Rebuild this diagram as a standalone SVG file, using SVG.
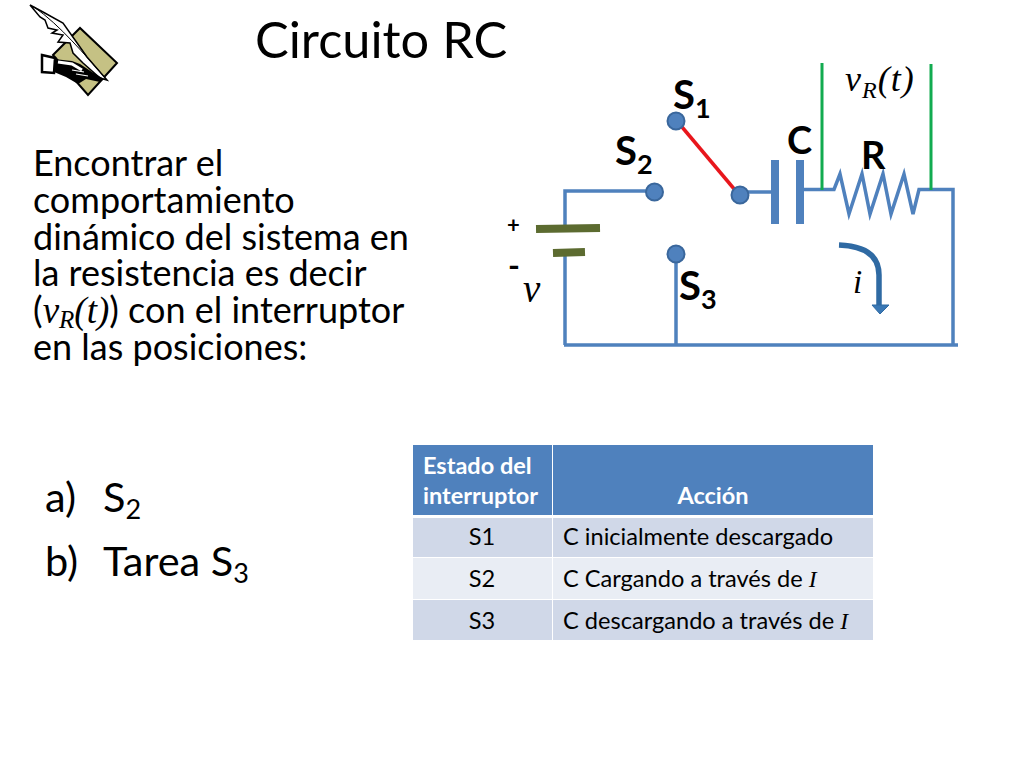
<svg xmlns="http://www.w3.org/2000/svg" width="1024" height="768" viewBox="0 0 1024 768">
<style>
text{font-family:"Lato","Carlito","Open Sans",sans-serif;fill:#000}
.m{font-family:"Liberation Serif","Times New Roman",serif;font-style:italic}
.w{fill:none;stroke:#4f81bd;stroke-width:3.5;stroke-linejoin:miter}
.d{fill:#4f81bd;stroke:#3a679c;stroke-width:2}
.b{font-weight:700;font-size:40px}
.bs{font-weight:700;font-size:27px}
.t{font-size:36px}
.c{font-size:23.600px}
.h{font-size:23.500px;font-weight:700;fill:#fff}
</style>
<rect width="1024" height="768" fill="#fff"/>
<g id="icon">
<path d="M53 55L80 28L117 63L88 95Z" fill="#c5c184" stroke="#000" stroke-width="2"/>
<path d="M30 5L43 12L63 23L75 40L87 57L107 80L100 78L83 63L73 53L70 43L58 42L63 35L52 33L57 30L48 28L45 20L40 17Z" fill="#fff" stroke="#000" stroke-width="1.500"/>
<path d="M34 7C60 25 85 55 107 80" fill="none" stroke="#000" stroke-width="1"/>
<path d="M54 59L72 61L80 64L92 72L104 79L100 82L86 79L78 84L66 77L54 72Z" fill="#000"/>
<path d="M58 62L72 64L82 70" stroke="#fff" stroke-width="3" fill="none"/>
<path d="M76 74L88 76M72 70L84 72" stroke="#fff" stroke-width="1.200" fill="none"/>
<path d="M42 55L55 58L54 73L42 72Z" fill="#fff" stroke="#000" stroke-width="2.500"/>
</g>
<g id="title"><text x="255" y="58" font-size="50.500">Circuito RC</text></g>
<g id="description">
<text x="33" y="176" class="t">Encontrar el</text>
<text x="33" y="213" class="t">comportamiento</text>
<text x="33" y="250" class="t">dinámico del sistema en</text>
<text x="33" y="286" class="t">la resistencia es decir</text>
<text x="33" y="323" class="t">(<tspan class="m" font-size="37">v</tspan><tspan class="m" font-size="25" dy="5">R</tspan><tspan class="m" font-size="37" dy="-5">(t)</tspan>) con el interruptor</text>
<text x="33" y="360" class="t">en las posiciones:</text>
</g>
<g id="list">
<text x="45" y="512" font-size="41.500">a)</text>
<text x="103" y="512" font-size="41.500">S<tspan font-size="27" dy="7">2</tspan></text>
<text x="45" y="576" font-size="41.500">b)</text>
<text x="103" y="576" font-size="41.500">Tarea S<tspan font-size="27" dy="7">3</tspan></text>
</g>
<g id="connectors">
<path class="w" d="M565 225V191H654"/>
<path class="w" d="M565 256V345M564 345H958M676 254V345"/>
<path class="w" d="M740 192H772"/>
<path class="w" d="M803 189.500H834L840 174L849 214L862 174L870 214L883 174L891 214L904 174L913 214L919 189.500H953V345"/>
<path d="M682 127L735 190" stroke="#e8161c" stroke-width="3.500" fill="none"/>
<path d="M822 63V190M931 64V190" stroke="#12ab50" stroke-width="3" fill="none"/>
<path d="M839 245C866 246 879 256 879 275V306" fill="none" stroke="#2f6aa3" stroke-width="5.500"/>
<path d="M872 305H889L880 314Z" fill="#3a78b5" stroke="#2f6aa3"/>
</g>
<g id="battery">
<path d="M536 229L600 228" stroke="#5c6b30" stroke-width="8" fill="none"/>
<path d="M553 253L585 252" stroke="#5c6b30" stroke-width="8" fill="none"/>
<text x="507" y="233" font-size="22" font-weight="700">+</text>
<text x="508" y="277" font-size="32" font-weight="700">-</text>
<text x="523" y="302" class="m" font-size="39">v</text>
</g>
<g id="capacitor">
<rect x="771" y="160" width="8" height="64" fill="#4f81bd"/>
<rect x="796" y="160" width="8" height="64" fill="#4f81bd"/>
<text x="787" y="154" font-size="38" font-weight="700">C</text>
</g>
<g id="S1"><circle class="d" cx="676" cy="121" r="8.500"/><text x="673" y="109" class="b">S<tspan class="bs" dy="9">1</tspan></text></g>
<g id="S2"><circle class="d" cx="654.500" cy="192" r="8.500"/><text x="615" y="165" class="b">S<tspan class="bs" dy="9">2</tspan></text></g>
<g id="S3"><circle class="d" cx="676" cy="254" r="8.500"/><text x="679" y="300" class="b">S<tspan class="bs" dy="9">3</tspan></text></g>
<g id="pivot"><circle class="d" cx="740" cy="195" r="8.500"/></g>
<g id="R"><text x="861" y="169" font-size="38" font-weight="700">R</text></g>
<g id="vR"><text x="845" y="91" class="m" font-size="36" letter-spacing="1">v<tspan font-size="24" dy="7">R</tspan><tspan dy="-7">(t)</tspan></text></g>
<g id="i"><text x="853" y="293" class="m" font-size="33">i</text></g>
<g id="table">
<rect x="413" y="445" width="139" height="70" fill="#4f81bd"/>
<rect x="553" y="445" width="320" height="70" fill="#4f81bd"/>
<rect x="413" y="518" width="139" height="39" fill="#d0d8e8"/>
<rect x="553" y="518" width="320" height="39" fill="#d0d8e8"/>
<rect x="413" y="558" width="139" height="41" fill="#e9edf4"/>
<rect x="553" y="558" width="320" height="41" fill="#e9edf4"/>
<rect x="413" y="600" width="139" height="40" fill="#d0d8e8"/>
<rect x="553" y="600" width="320" height="40" fill="#d0d8e8"/>
<text x="423" y="474" class="h">Estado del</text>
<text x="423" y="504" class="h">interruptor</text>
<text x="713" y="504" class="h" text-anchor="middle">Acción</text>
<text x="482" y="545" class="c" text-anchor="middle">S1</text>
<text x="482" y="587" class="c" text-anchor="middle">S2</text>
<text x="482" y="629" class="c" text-anchor="middle">S3</text>
<text x="563" y="545" class="c">C inicialmente descargado</text>
<text x="563" y="587" class="c">C Cargando a través de <tspan class="m">I</tspan></text>
<text x="563" y="629" class="c">C descargando a través de <tspan class="m">I</tspan></text>
</g>
</svg>
